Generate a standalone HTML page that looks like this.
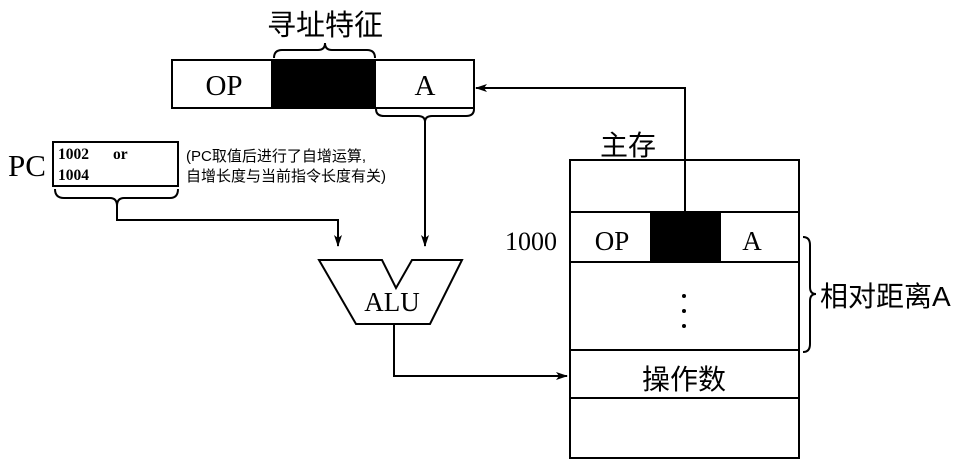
<!DOCTYPE html>
<html><head><meta charset="utf-8"><style>html,body{margin:0;padding:0;background:#fff}svg{display:block}</style></head>
<body>
<svg width="972" height="465" viewBox="0 0 972 465" xmlns="http://www.w3.org/2000/svg">
<defs><marker id="ar" markerWidth="12" markerHeight="8" refX="11" refY="4" orient="auto" markerUnits="userSpaceOnUse"><path d="M0,0 L12,4 L0,8 L3,4 Z" fill="#000"/></marker></defs>
<g fill="none" stroke="#000" stroke-width="2">
<rect x="172" y="60" width="302" height="48" fill="#fff"/>
<rect x="272" y="60" width="103" height="48" fill="#000"/>
<path d="M274,58 Q274,50 282,50 L318,50 Q325,50 325,43 Q325,50 332,50 L367,50 Q375,50 375,58"/>
<path d="M376,109 Q376,116 384,116 L418,116 Q425,116 425,122 Q425,116 432,116 L466,116 Q474,116 474,109"/>
<path d="M425,122 L425,246" marker-end="url(#ar)"/>
<rect x="53" y="142" width="125" height="44"/>
<path d="M55,189 Q55,198 64,198 L110,198 Q117,198 117,206 Q117,198 124,198 L170,198 Q178,198 178,189"/>
<path d="M117,206 L117,220 L338,220 L338,246" marker-end="url(#ar)"/>
<path d="M319,260 L382,260 L396,288 L412,260 L462,260 L430,324 L356,324 Z"/>
<path d="M394,324 L394,376 L567,376" marker-end="url(#ar)"/>
<rect x="570" y="160" width="229" height="298"/>
<line x1="570" y1="212" x2="799" y2="212"/>
<line x1="570" y1="262" x2="799" y2="262"/>
<line x1="570" y1="350" x2="799" y2="350"/>
<line x1="570" y1="398" x2="799" y2="398"/>
<rect x="651" y="212" width="69" height="50" fill="#000"/>
<path d="M685,212 L685,88 L476,88" marker-end="url(#ar)"/>
<path d="M803,237 Q810,237 810,245 L810,287 Q810,294 816,294 Q810,294 810,301 L810,344 Q810,352 803,352"/>
</g>
<g fill="#000">
<circle cx="684" cy="296" r="2"/><circle cx="684" cy="311" r="2"/><circle cx="684" cy="326" r="2"/>
</g>
<g font-family="Liberation Serif, serif" fill="#000">
<text x="224" y="95" font-size="29" text-anchor="middle">OP</text>
<text x="425" y="95" font-size="29" text-anchor="middle">A</text>
<text x="27" y="176" font-size="31" text-anchor="middle">PC</text>
<text x="58" y="159" font-size="15.5" font-weight="bold">1002</text>
<text x="113" y="159" font-size="15.5" font-weight="bold">or</text>
<text x="58" y="180" font-size="15.5" font-weight="bold">1004</text>
<text x="392" y="311" font-size="27" text-anchor="middle">ALU</text>
<text x="531" y="250" font-size="26" text-anchor="middle">1000</text>
<text x="612" y="250" font-size="27" text-anchor="middle">OP</text>
<text x="752" y="250" font-size="27" text-anchor="middle">A</text>
</g>
<g font-family="Liberation Sans, Noto Sans CJK SC, sans-serif" fill="#000">
<text x="325" y="35" font-size="29" text-anchor="middle">寻址特征</text>
<text x="186" y="161" font-size="15">(PC取值后进行了自增运算,</text>
<text x="186" y="181" font-size="15">自增长度与当前指令长度有关)</text>
<text x="628" y="155" font-size="28" text-anchor="middle">主存</text>
<text x="684" y="389" font-size="28" text-anchor="middle">操作数</text>
<text x="820" y="306" font-size="28">相对距离A</text>
</g>
</svg>
</body></html>
